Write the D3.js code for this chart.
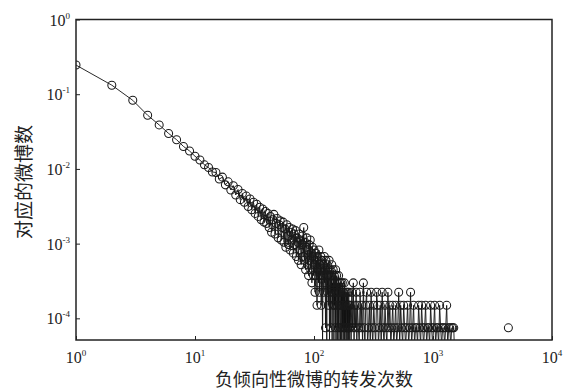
<!DOCTYPE html>
<html>
<head>
<meta charset="utf-8">
<script src="https://cdn.jsdelivr.net/npm/d3@7"></script>
<style>
  body { margin: 0; background: #fff; }
</style>
</head>
<body>
<div id="chart"></div>
<script>
// number of posts that got k retweets, k = 1..200
const headCounts = [
  3290, 1770, 1110, 700, 520, 400, 330, 268, 233, 198,
  176, 152, 140, 122, 120, 98, 104, 82, 90, 70,
  80, 60, 71, 52, 63, 48, 58, 42, 53, 38,
  48, 34, 45, 31, 41, 28, 39, 26, 36, 25,
  34, 22, 31, 19, 28, 33, 18, 25, 29, 16,
  24, 27, 15, 22, 26, 14, 21, 12, 24, 17,
  13, 22, 11, 19, 15, 21, 10, 18, 13, 20,
  9, 16, 14, 8, 18, 11, 15, 7, 13, 17,
  9, 22, 8, 14, 6, 12, 16, 7, 11, 5,
  13, 8, 15, 6, 10, 4, 12, 9, 5, 11,
  7, 3, 10, 5, 8, 2, 9, 6, 4, 11,
  3, 7, 5, 9, 2, 6, 8, 0, 5, 7,
  3, 9, 4, 6, 1, 8, 5, 0, 7, 3,
  6, 2, 5, 8, 0, 4, 6, 1, 5, 3,
  7, 0, 4, 2, 6, 3, 0, 5, 2, 4,
  1, 6, 0, 3, 5, 2, 0, 4, 3, 1,
  5, 0, 2, 4, 3, 1, 0, 4, 2, 3,
  0, 2, 4, 1, 3, 0, 2, 3, 1, 4,
  0, 2, 3, 1, 2, 0, 3, 2, 1, 0,
  3, 1, 2, 0, 2, 3, 1, 0, 2, 1
];
// sparse tail (0 = no post with that many retweets)
const tailK = [
  202, 205, 208, 211, 214, 217, 220, 223, 226, 229,
  232, 236, 240, 244, 248, 252, 256, 260, 264, 268,
  272, 277, 282, 287, 292, 297, 302, 307, 312, 318,
  324, 330, 336, 342, 348, 354, 360, 367, 374, 381,
  388, 395, 402, 410, 418, 426, 434, 442, 450, 459,
  468, 477, 486, 495, 505, 515, 525, 535, 545, 556,
  567, 578, 589, 600, 612, 624, 636, 648, 661, 674,
  687, 700, 714, 728, 742, 757, 772, 787, 802, 818,
  834, 850, 867, 884, 901, 919, 937, 955, 974, 993,
  1012, 1032, 1052, 1073, 1094, 1115, 1137, 1159, 1182, 1205,
  1229, 1253, 1278, 1303, 1329, 1355, 1382, 1409, 1437, 1465,
  1494, 1510
];
const tailCounts = [
  2, 0, 3, 1, 4, 0, 2, 1, 3, 0,
  2, 1, 0, 3, 1, 2, 0, 4, 1, 0,
  2, 3, 0, 1, 2, 0, 3, 1, 0, 2,
  1, 0, 3, 2, 0, 1, 2, 0, 3, 1,
  0, 2, 1, 0, 3, 1, 2, 0, 1, 2,
  0, 1, 2, 0, 1, 3, 0, 2, 1, 0,
  2, 1, 0, 1, 2, 0, 1, 3, 0, 1,
  2, 0, 1, 1, 0, 2, 1, 0, 2, 1,
  0, 1, 2, 0, 1, 1, 0, 2, 1, 0,
  1, 2, 0, 1, 1, 0, 2, 1, 0, 1,
  1, 0, 1, 2, 0, 1, 1, 0, 1, 1,
  1, 0
];
const outlierK = [4300];
const outlierCounts = [1];
const totalPosts = 13400;

const xTicks = [1, 10, 100, 1000, 10000];
const xTickExp = ["0", "1", "2", "3", "4"];
const yTicks = [1, 0.1, 0.01, 0.001, 0.0001];
const yTickExp = ["0", "-1", "-2", "-3", "-4"];
const xTitle = "负倾向性微博的转发次数";
const yTitle = "对应的微博数";

const width = 571;
const height = 392;
const plotLeft = 76, plotRight = 552, plotTop = 19.5, plotBottom = 340;

const svg = d3.select("#chart")
  .append("svg")
  .attr("width", width)
  .attr("height", height)
  .style("background", "#fff");

const x = d3.scaleLog().domain([1, 1e4]).range([plotLeft, plotRight]);
const y = d3.scaleLog().domain([Math.pow(10, -4.29), 1]).range([plotBottom, plotTop]);

const series = headCounts.map((c, i) => ({ k: i + 1, c: c }))
  .concat(tailK.map((k, i) => ({ k: k, c: tailCounts[i] })));
const outliers = outlierK.map((k, i) => ({ k: k, c: outlierCounts[i] }));

svg.append("clipPath").attr("id", "plot")
  .append("rect")
  .attr("x", plotLeft).attr("y", plotTop)
  .attr("width", plotRight - plotLeft).attr("height", plotBottom - plotTop);

const plot = svg.append("g").attr("clip-path", "url(#plot)");

// zero counts fall off the log axis, so the line drops to the bottom edge
const line = d3.line()
  .x(d => x(d.k))
  .y(d => d.c > 0 ? y(d.c / totalPosts) : plotBottom + 5);

plot.append("path")
  .datum(series)
  .attr("d", line)
  .attr("fill", "none")
  .attr("stroke", "#111")
  .attr("stroke-width", 0.9);

plot.selectAll("circle.pt")
  .data(series.filter(d => d.c > 0).concat(outliers))
  .enter()
  .append("circle")
  .attr("class", "pt")
  .attr("cx", d => x(d.k))
  .attr("cy", d => y(d.c / totalPosts))
  .attr("r", 4)
  .attr("fill", "none")
  .attr("stroke", "#1a1a1a")
  .attr("stroke-width", 1.05);

// ticks (inward)
svg.append("g")
  .attr("transform", "translate(0," + plotBottom + ")")
  .call(d3.axisBottom(x).tickValues(xTicks).tickSize(-4).tickFormat(""))
  .call(g => g.select(".domain").remove())
  .selectAll("line").attr("stroke", "#222");

svg.append("g")
  .attr("transform", "translate(" + plotLeft + ",0)")
  .call(d3.axisLeft(y).tickValues(yTicks).tickSize(-4).tickFormat(""))
  .call(g => g.select(".domain").remove())
  .selectAll("line").attr("stroke", "#222");

svg.append("rect")
  .attr("x", plotLeft).attr("y", plotTop)
  .attr("width", plotRight - plotLeft).attr("height", plotBottom - plotTop)
  .attr("fill", "none")
  .attr("stroke", "#222")
  .attr("stroke-width", 1.5);

// tick labels as 10 with superscript
const serif = "'Liberation Serif', 'Times New Roman', serif";

const xl = svg.selectAll("text.xl")
  .data(xTicks)
  .enter()
  .append("text")
  .attr("class", "xl")
  .attr("x", d => x(d))
  .attr("y", 363)
  .attr("text-anchor", "middle")
  .style("font-family", serif)
  .style("font-size", "16px")
  .attr("fill", "#222");
xl.append("tspan").text("10");
xl.append("tspan")
  .attr("dy", -7)
  .style("font-size", "9px")
  .text((d, i) => xTickExp[i]);

const yl = svg.selectAll("text.yl")
  .data(yTicks)
  .enter()
  .append("text")
  .attr("class", "yl")
  .attr("x", 70)
  .attr("y", d => y(d) + 6)
  .attr("text-anchor", "end")
  .style("font-family", serif)
  .style("font-size", "16px")
  .attr("fill", "#222");
yl.append("tspan").text("10");
yl.append("tspan")
  .attr("dy", -7)
  .style("font-size", "9px")
  .text((d, i) => yTickExp[i]);

// axis titles
svg.append("text")
  .attr("x", (plotLeft + plotRight) / 2)
  .attr("y", 386)
  .attr("text-anchor", "middle")
  .style("font-family", "'Noto Sans CJK SC', sans-serif")
  .style("font-size", "18px")
  .attr("fill", "#222")
  .text(xTitle);

svg.append("text")
  .attr("transform", "translate(31,182) rotate(-90)")
  .attr("text-anchor", "middle")
  .style("font-family", "'Noto Sans CJK SC', sans-serif")
  .style("font-size", "19px")
  .attr("fill", "#222")
  .text(yTitle);
</script>
</body>
</html>
